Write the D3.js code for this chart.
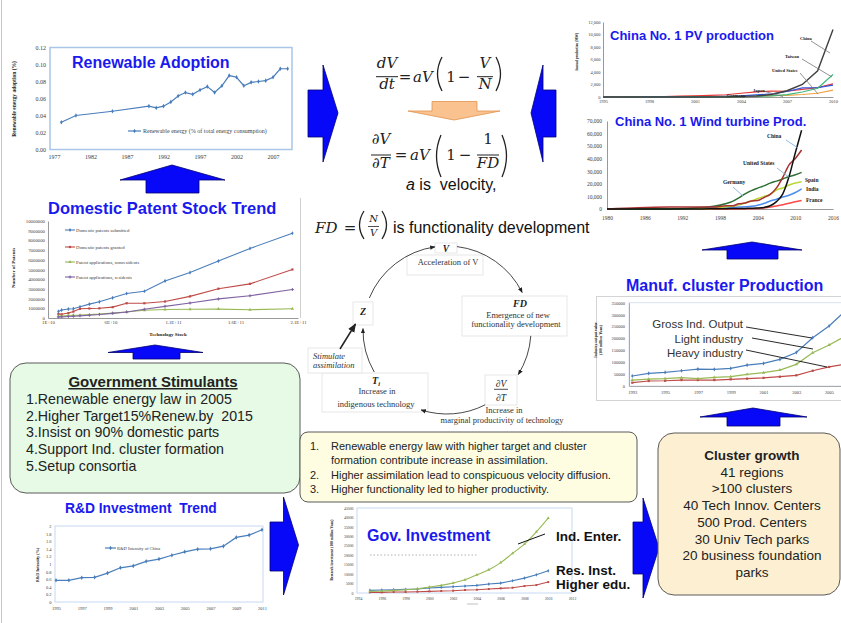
<!DOCTYPE html>
<html>
<head>
<meta charset="utf-8">
<title>Renewable technology diffusion in China</title>
<script src="https://d3js.org/d3.v7.min.js"></script>
<style>
  body { margin: 0; background: #fff; }
  text { font-family: "Liberation Sans", Arial, sans-serif; }
  .serif { font-family: "Liberation Serif", "Times New Roman", serif; }
  .math { font-family: "DejaVu Serif", serif; }
</style>
</head>
<body>
<script>
// ---------- data ----------
var renewYears = [1978, 1980, 1985, 1990, 1991, 1992, 1993, 1994, 1995, 1996, 1997, 1998, 1999, 2000, 2001, 2002, 2003, 2004, 2005, 2006, 2007, 2008, 2009];
var renewShare = [0.032, 0.040, 0.045, 0.051, 0.049, 0.051, 0.056, 0.063, 0.067, 0.065, 0.070, 0.074, 0.067, 0.075, 0.087, 0.085, 0.075, 0.079, 0.080, 0.081, 0.085, 0.095, 0.095];
var renewTicksX = [1977, 1982, 1987, 1992, 1997, 2002, 2007];
var renewTicksY = [0, 0.02, 0.04, 0.06, 0.08, 0.10, 0.12];

var pvYears = [1995, 1996, 1997, 1998, 1999, 2000, 2001, 2002, 2003, 2004, 2005, 2006, 2007, 2008, 2009, 2010];
var pvChina = [1, 1, 2, 2, 3, 3, 5, 10, 12, 50, 150, 400, 1000, 2000, 4200, 10800];
var pvTaiwan = [0, 0, 0, 0, 0, 0, 5, 8, 17, 39, 88, 170, 368, 800, 1400, 3600];
var pvUS = [35, 39, 51, 54, 61, 75, 100, 121, 103, 139, 153, 202, 266, 400, 600, 1100];
var pvJapan = [16, 21, 35, 49, 80, 129, 171, 251, 364, 602, 833, 927, 920, 1224, 1500, 2100];
var pvGermany = [0, 0, 0, 5, 10, 23, 33, 54, 121, 186, 339, 500, 875, 1450, 1500, 1900];
var pvTicksX = [1995, 1998, 2001, 2004, 2007, 2010];
var pvTicksY = [0, 2000, 4000, 6000, 8000, 10000, 12000];

var windYears = [1980, 1985, 1990, 1995, 1997, 1999, 2000, 2001, 2002, 2003, 2004, 2005, 2006, 2007, 2008, 2009, 2010, 2011];
var windChina = [0, 0, 0, 40, 150, 260, 350, 400, 470, 570, 760, 1260, 2600, 5900, 12000, 25800, 44700, 62700];
var windUS = [10, 1000, 1500, 1600, 1600, 2500, 2500, 4200, 4700, 6400, 6700, 9100, 11600, 16800, 25200, 35100, 40200, 46900];
var windGermany = [0, 0, 60, 1100, 2100, 4400, 6100, 8800, 12000, 14600, 16600, 18400, 20600, 22200, 23900, 25800, 27200, 29100];
var windSpain = [0, 0, 0, 100, 450, 1800, 2200, 3300, 4800, 6200, 8300, 10000, 11600, 15100, 16700, 19100, 20700, 21700];
var windIndia = [0, 0, 0, 500, 900, 1000, 1200, 1500, 1700, 2100, 3000, 4400, 6300, 7800, 9600, 10900, 13100, 16100];
var windFrance = [0, 0, 0, 0, 10, 20, 60, 90, 150, 250, 390, 760, 1600, 2450, 3400, 4500, 5700, 6800];
var windTicksX = [1980, 1986, 1992, 1998, 2004, 2010, 2016];
var windTicksY = [0, 10000, 20000, 30000, 40000, 50000, 60000, 70000];

var techStock = [1.83e10, 2.09e10, 2.63e10, 3.03e10, 3.56e10, 4.31e10, 5.11e10, 6.17e10, 7.29e10, 8.71e10, 1.036e11, 1.236e11, 1.463e11, 1.716e11, 2.055e11];
var patSubmitted = [680000, 820000, 920000, 960000, 1160000, 1430000, 1670000, 2080000, 2530000, 2760000, 3820000, 4680000, 5870000, 7170000, 8740000];
var patGranted = [410000, 380000, 510000, 660000, 950000, 980000, 1000000, 1120000, 1520000, 1520000, 1700000, 2230000, 3020000, 3520000, 5000000];
var patNonres = [180000, 200000, 250000, 280000, 300000, 350000, 400000, 500000, 620000, 800000, 870000, 900000, 920000, 850000, 960000];
var patRes = [100000, 120000, 150000, 180000, 220000, 280000, 360000, 480000, 620000, 900000, 1200000, 1550000, 1970000, 2300000, 2930000];
var patTicksX = [1e10, 6e10, 1.1e11, 1.6e11, 2.1e11];
var patTickLabels = ["1E+10", "6E+10", "1.1E+11", "1.6E+11", "2.1E+11"];
var patTicksY = [0, 1e6, 2e6, 3e6, 4e6, 5e6, 6e6, 7e6, 8e6, 9e6, 1e7];
var patLegend = ["Domestic patents submitted", "Domestic patents granted", "Patent applications, nonresidents", "Patent applications, residents"];

var mfgYears = [1993, 1994, 1995, 1996, 1997, 1998, 1999, 2000, 2001, 2002, 2003, 2004, 2005, 2006];
var mfgGross = [42000, 53000, 57000, 64000, 71000, 70000, 74000, 88000, 95000, 112000, 141000, 203000, 252000, 316600];
var mfgLight = [25000, 29000, 31000, 35000, 31000, 36000, 39000, 49000, 56000, 67000, 91000, 140000, 172000, 210000];
var mfgHeavy = [14000, 21000, 22000, 25000, 25000, 25000, 28000, 31000, 34000, 39000, 45000, 64000, 80000, 92000];
var mfgTicksX = [1993, 1995, 1997, 1999, 2001, 2003, 2005];
var mfgTicksY = [0, 50000, 100000, 150000, 200000, 250000, 300000, 350000];

var rdYears = [1995, 1996, 1997, 1998, 1999, 2000, 2001, 2002, 2003, 2004, 2005, 2006, 2007, 2008, 2009, 2010, 2011];
var rdIntensity = [0.57, 0.57, 0.64, 0.65, 0.76, 0.90, 0.95, 1.07, 1.13, 1.23, 1.32, 1.39, 1.40, 1.47, 1.70, 1.76, 1.90];
var rdTicksX = [1995, 1997, 1999, 2001, 2003, 2005, 2007, 2009, 2011];
var rdTicksY = [0, 0.2, 0.4, 0.6, 0.8, 1, 1.2, 1.4, 1.6, 1.8, 2];

var govYears = [1995, 1996, 1997, 1998, 1999, 2000, 2001, 2002, 2003, 2004, 2005, 2006, 2007, 2008, 2009, 2010];
var govEnterprise = [875, 1050, 1400, 1750, 2280, 3150, 4030, 5250, 7000, 9630, 12260, 16100, 21000, 25900, 32400, 39700];
var govResearch = [1400, 1580, 1750, 1930, 2100, 2630, 2980, 3330, 3680, 4030, 4730, 5250, 6480, 7880, 9630, 11730];
var govHigherEdu = [350, 350, 525, 525, 700, 875, 1050, 1230, 1580, 1750, 2100, 2450, 2800, 3680, 4200, 5780];
var govTicksX = [1994, 1996, 1998, 2000, 2002, 2004, 2006, 2008, 2010, 2012];
var govTicksY = [0, 5000, 10000, 15000, 20000, 25000, 30000, 35000, 40000, 45000];

var stimulants = ["1.Renewable energy law in 2005", "2.Higher Target15%Renew.by  2015", "3.Insist on 90% domestic parts", "4.Support Ind. cluster formation", "5.Setup consortia"];
var clusterLines = ["41 regions", ">100 clusters", "40 Tech Innov. Centers", "500 Prod. Centers", "30 Univ Tech parks", "20 business foundation", "parks"];
var notes = [["1.", "Renewable energy law with higher target and cluster"], ["", "formation contribute increase in assimilation."],
             ["2.", "Higher assimilation lead to conspicuous velocity diffusion."], ["3.", "Higher functionality led to higher productivity."]];

// ---------- helpers ----------
var svg = d3.select("body").append("svg").attr("width", 841).attr("height", 623);
var blueTitle = "#1a1aee";

function txt(x, y, s, size, o) {
  o = o || {};
  var t = svg.append("text").attr("x", x).attr("y", y).text(s)
    .style("font-size", size + "px").style("white-space", "pre");
  if (o.anchor) t.attr("text-anchor", o.anchor);
  t.attr("fill", o.fill || "#222");
  if (o.weight) t.style("font-weight", o.weight);
  if (o.italic) t.style("font-style", "italic");
  if (o.cls) t.attr("class", o.cls);
  if (o.rotate) t.attr("transform", "rotate(-90," + x + "," + y + ")");
  return t;
}

function seg(x1, y1, x2, y2, color, w) {
  return svg.append("line").attr("x1", x1).attr("y1", y1).attr("x2", x2).attr("y2", y2)
    .attr("stroke", color).attr("stroke-width", w || 1);
}

function axes(x, y, o) {
  var gx = svg.append("g").attr("transform", "translate(0," + o.y0 + ")")
    .call(d3.axisBottom(x).tickValues(o.xTicks).tickFormat(o.xFmt || d3.format("d"))
      .tickSize(0).tickSizeOuter(0).tickPadding(o.xPad));
  var gy = svg.append("g").attr("transform", "translate(" + o.x0 + ",0)")
    .call(d3.axisLeft(y).tickValues(o.yTicks).tickFormat(o.yFmt || d3.format("d"))
      .tickSize(0).tickSizeOuter(0).tickPadding(o.yPad));
  [gx, gy].forEach(function(g) {
    g.select(".domain").attr("stroke", o.line || "none");
    g.selectAll("text").attr("class", "serif").attr("fill", "#404040").style("font-size", o.fs + "px");
  });
}

function series(xs, vs, x, y, color, o) {
  o = o || {};
  var line = d3.line().x(function(d, i) { return x(xs[i]); }).y(function(d) { return y(d); });
  if (o.curve) line.curve(o.curve);
  svg.append("path").datum(vs).attr("d", line).attr("fill", "none")
    .attr("stroke", color).attr("stroke-width", o.w || 1.2);
  if (o.marker) {
    svg.append("g").selectAll("path").data(vs).enter().append("path")
      .attr("d", d3.symbol().type(o.marker).size(o.ms || 5))
      .attr("transform", function(d, i) { return "translate(" + x(xs[i]) + "," + y(d) + ")"; })
      .attr("fill", color);
  }
}

function blueArrow(pts) {
  svg.append("polygon").attr("points", pts.map(function(p) { return p.join(","); }).join(" "))
    .attr("fill", "#0808f8").attr("stroke", "#000070").attr("stroke-width", 0.8);
}

// slide frame lines
seg(1.5, 0, 1.5, 623, "#c8c8c8", 1);
seg(300.5, 198, 300.5, 318, "#d0d0d0", 1);

// ---------- Renewable adoption ----------
var x1 = d3.scaleLinear().domain([1976.45, 2009.6]).range([50, 292]);
var y1 = d3.scaleLinear().domain([0, 0.12]).range([149.5, 47.5]);
axes(x1, y1, {x0: 50, y0: 149.5, xTicks: renewTicksX, yTicks: renewTicksY, yFmt: d3.format(".2f"), fs: 6, xPad: 5, yPad: 4});
svg.append("rect").attr("x", 50).attr("y", 47.5).attr("width", 242).attr("height", 102)
  .attr("fill", "none").attr("stroke", "#a9c6e8").attr("stroke-width", 1.5);
series(renewYears, renewShare, x1, y1, "#4a7ebb", {marker: d3.symbolDiamond, ms: 6});
seg(128, 131, 141, 131, "#4a7ebb", 1.2);
svg.append("path").attr("d", d3.symbol().type(d3.symbolDiamond).size(6)).attr("transform", "translate(134.5,131)").attr("fill", "#4a7ebb");
txt(143, 133, "Renewable energy (% of total energy consumption)", 6, {cls: "serif", fill: "#404040"});
txt(16, 99, "Renewable energy adoption (%)", 5.5, {cls: "serif", weight: "bold", anchor: "middle", rotate: true});
txt(72, 68, "Renewable Adoption", 16, {weight: "bold", fill: blueTitle});

blueArrow([[146, 193], [146, 180], [120, 180], [172, 165], [225, 180], [199, 180], [199, 193]]);

// ---------- China PV production ----------
var x2 = d3.scaleLinear().domain([1995, 2010]).range([603, 833]);
var y2 = d3.scaleLinear().domain([0, 12000]).range([97, 22]);
axes(x2, y2, {x0: 603, y0: 97, xTicks: pvTicksX, yTicks: pvTicksY, yFmt: d3.format(","), fs: 4.5, xPad: 3, yPad: 2.5, line: "#999"});
series(pvYears, pvUS, x2, y2, "#f0a040", {w: 1.2});
series(pvYears, pvJapan, x2, y2, "#e83838", {w: 1.2});
series(pvYears, pvGermany, x2, y2, "#3358e0", {w: 1.2});
series(pvYears, pvTaiwan, x2, y2, "#3cb878", {w: 1.2});
series(pvYears, pvChina, x2, y2, "#404040", {w: 1.4});
seg(811, 41, 830, 53, "#777", 0.8);
seg(802, 59, 832, 77, "#777", 0.8);
seg(800, 73, 818, 94, "#777", 0.8);
seg(765, 91.5, 783, 96.5, "#777", 0.8);
seg(746, 97, 758, 97, "#777", 0.8);
txt(800, 40, "China", 4.5, {cls: "serif", weight: "bold"});
txt(785, 58, "Taiwan", 4.5, {cls: "serif", weight: "bold"});
txt(772, 72, "United States", 4.5, {cls: "serif", weight: "bold"});
txt(753, 92, "Japan", 4.5, {cls: "serif", weight: "bold"});
txt(727, 96.5, "Germany", 4.5, {cls: "serif", weight: "bold"});
txt(578, 52, "Annual production (MW)", 3.5, {cls: "serif", weight: "bold", anchor: "middle", rotate: true});
txt(610, 40, "China No. 1 PV production", 13, {weight: "bold", fill: blueTitle});

// ---------- China wind turbine ----------
var x3 = d3.scaleLinear().domain([1980, 2016]).range([607, 833]);
var y3 = d3.scaleLinear().domain([0, 70000]).range([209, 121]);
axes(x3, y3, {x0: 607, y0: 209, xTicks: windTicksX, yTicks: windTicksY, yFmt: d3.format(","), fs: 5.5, xPad: 7, yPad: 5, line: "#999"});
var smooth = d3.curveMonotoneX;
series(windYears, windFrance, x3, y3, "#ff4848", {w: 1.5, curve: smooth});
series(windYears, windIndia, x3, y3, "#4a8cf0", {w: 1.5, curve: smooth});
series(windYears, windSpain, x3, y3, "#b8d838", {w: 1.5, curve: smooth});
series(windYears, windGermany, x3, y3, "#2e6e34", {w: 1.5, curve: smooth});
series(windYears, windUS, x3, y3, "#a83030", {w: 1.5, curve: smooth});
series(windYears, windChina, x3, y3, "#111", {w: 1.5, curve: smooth});
seg(786, 140, 798, 148, "#80b2e6", 0.9);
seg(777, 168, 790, 178, "#80b2e6", 0.9);
seg(733, 187, 743, 196, "#80b2e6", 0.9);
txt(767, 138, "China", 5.5, {cls: "serif", weight: "bold"});
txt(743, 165, "United States", 5.5, {cls: "serif", weight: "bold"});
txt(723, 184, "Germany", 5.5, {cls: "serif", weight: "bold"});
txt(805, 182, "Spain", 5.5, {cls: "serif", weight: "bold"});
txt(806, 191, "India", 5.5, {cls: "serif", weight: "bold"});
txt(806, 202, "France", 5.5, {cls: "serif", weight: "bold"});
txt(615, 126, "China No. 1 Wind turbine Prod.", 13, {weight: "bold", fill: blueTitle});

blueArrow([[727, 259], [727, 250], [702, 250], [752, 242], [802, 250], [778, 250], [778, 259]]);

// ---------- Domestic patent stock ----------
var x4 = d3.scaleLinear().domain([1e10, 2.1e11]).range([48, 298]);
var y4 = d3.scaleLinear().domain([0, 1e7]).range([318, 221]);
axes(x4, y4, {x0: 48, y0: 318, xTicks: patTicksX, yTicks: patTicksY, xFmt: function(d, i) { return patTickLabels[i]; }, fs: 4.8, xPad: 2.5, yPad: 3, line: "#999"});
var patColors = ["#4a7ebb", "#be4b48", "#98b954", "#8064a2"];
var patMarkers = [d3.symbolDiamond, d3.symbolSquare, d3.symbolTriangle, d3.symbolCross];
[patSubmitted, patGranted, patNonres, patRes].forEach(function(s, k) {
  series(techStock, s, x4, y4, patColors[k], {w: 1.1, marker: patMarkers[k], ms: 5});
});
patLegend.forEach(function(name, k) {
  var ly = [230, 247, 262, 277][k];
  seg(65, ly, 75, ly, patColors[k], 1.1);
  svg.append("path").attr("d", d3.symbol().type(patMarkers[k]).size(5))
    .attr("transform", "translate(70," + ly + ")").attr("fill", patColors[k]);
  txt(76, ly + 1.6, name, 4.8, {cls: "serif", fill: "#404040"});
});
txt(15, 268, "Number of Patents", 5, {cls: "serif", weight: "bold", anchor: "middle", rotate: true});
txt(168, 336, "Technology Stock", 5, {cls: "serif", weight: "bold", anchor: "middle"});
txt(48, 214, "Domestic Patent Stock Trend", 16.5, {weight: "bold", fill: blueTitle});

blueArrow([[133, 359], [133, 352.5], [108, 352.5], [155, 345], [203, 352.5], [180, 352.5], [180, 359]]);

// ---------- Manufacturing cluster production ----------
var x5 = d3.scaleLinear().domain([1992.8, 2006]).range([629, 845.5]);
var y5 = d3.scaleLinear().domain([0, 350000]).range([386, 302.7]);
svg.append("rect").attr("x", 596.5).attr("y", 296.5).attr("width", 250).attr("height", 104)
  .attr("fill", "none").attr("stroke", "#d4d4d4");
svg.append("rect").attr("x", 629).attr("y", 302.7).attr("width", 220).attr("height", 83.3)
  .attr("fill", "none").attr("stroke", "#d6e2f0");
axes(x5, y5, {x0: 629, y0: 386, xTicks: mfgTicksX, yTicks: mfgTicksY, fs: 4.5, xPad: 5, yPad: 4, line: "#aaa"});
series(mfgYears, mfgHeavy, x5, y5, "#be4b48", {w: 1.2, marker: d3.symbolSquare, ms: 5});
series(mfgYears, mfgLight, x5, y5, "#98b954", {w: 1.2, marker: d3.symbolTriangle, ms: 5});
series(mfgYears, mfgGross, x5, y5, "#4a7ebb", {w: 1.2, marker: d3.symbolDiamond, ms: 5});
txt(743, 328, "Gross Ind. Output", 11.5, {anchor: "end", fill: "#333"});
txt(743, 343, "Light industry", 11.5, {anchor: "end", fill: "#333"});
txt(743, 357, "Heavy industry", 11.5, {anchor: "end", fill: "#333"});
seg(746, 327, 812, 338, "#111", 0.9);
seg(752, 338, 813, 349, "#111", 0.9);
seg(746, 350, 827, 367, "#111", 0.9);
txt(597, 340, "Industry output value", 3.8, {cls: "serif", weight: "bold", anchor: "middle", rotate: true});
txt(602, 340, "(100 million Yuan)", 3.8, {cls: "serif", weight: "bold", anchor: "middle", rotate: true});
txt(626, 291, "Manuf. cluster Production", 16, {weight: "bold", fill: blueTitle});

blueArrow([[727, 426], [727, 417], [700, 417], [753, 408], [807, 417], [780, 417], [780, 426]]);

// ---------- R&D investment ----------
var x6 = d3.scaleLinear().domain([1995, 2011]).range([56, 262]);
var y6 = d3.scaleLinear().domain([0, 2]).range([602, 526]);
axes(x6, y6, {x0: 55, y0: 602, xTicks: rdTicksX, yTicks: rdTicksY, yFmt: d3.format("~g"), fs: 4.5, xPad: 5, yPad: 3.5});
svg.append("rect").attr("x", 55).attr("y", 526).attr("width", 208).attr("height", 76)
  .attr("fill", "none").attr("stroke", "#c6d9f1");
series(rdYears, rdIntensity, x6, y6, "#4a7ebb", {w: 1.2, marker: d3.symbolDiamond, ms: 6});
seg(105, 548, 116, 548, "#4a7ebb", 1.2);
svg.append("path").attr("d", d3.symbol().type(d3.symbolDiamond).size(6)).attr("transform", "translate(110.5,548)").attr("fill", "#4a7ebb");
txt(117, 549.6, "R&D Intensity of China", 4.5, {cls: "serif", fill: "#404040"});
txt(39, 565, "R&D Intensity (%)", 4.2, {cls: "serif", weight: "bold", anchor: "middle", rotate: true});
txt(65, 513, "R&D Investment  Trend", 13.8, {weight: "bold", fill: blueTitle});

blueArrow([[270, 571], [270, 522], [283.5, 522], [283.5, 497], [298.5, 545], [283.5, 595], [283.5, 571]]);

// ---------- Government investment ----------
var x7 = d3.scaleLinear().domain([1994, 2012]).range([358, 572]);
var y7 = d3.scaleLinear().domain([0, 45000]).range([593, 508]);
axes(x7, y7, {x0: 357, y0: 593, xTicks: govTicksX, yTicks: govTicksY, fs: 3.8, xPad: 4, yPad: 3.5});
svg.append("rect").attr("x", 357).attr("y", 508).attr("width", 215).attr("height", 85)
  .attr("fill", "none").attr("stroke", "#c6d9f1");
seg(370, 555, 477, 555, "#a0a0a0", 0.8).attr("stroke-dasharray", "1.5,2");
seg(467, 604, 478, 604, "#b0b0b0", 0.8);
series(govYears, govHigherEdu, x7, y7, "#be4b48", {w: 1.1, marker: d3.symbolSquare, ms: 4});
series(govYears, govResearch, x7, y7, "#4a7ebb", {w: 1.1, marker: d3.symbolDiamond, ms: 4});
series(govYears, govEnterprise, x7, y7, "#98b954", {w: 1.1, marker: d3.symbolTriangle, ms: 4, curve: d3.curveMonotoneX});
seg(518, 544, 545, 534, "#111", 1);
txt(333, 550, "Research investment (100 million Yuan)", 3.6, {cls: "serif", weight: "bold", anchor: "middle", rotate: true});
txt(367, 541, "Gov. Investment", 16, {weight: "bold", fill: blueTitle});
txt(556, 541, "Ind. Enter.", 13.5, {weight: "bold", fill: "#111"});
txt(556, 575, "Res. Inst.", 13.5, {weight: "bold", fill: "#111"});
txt(556, 589, "Higher edu.", 13.5, {weight: "bold", fill: "#111"});

blueArrow([[633, 574], [633, 522], [643, 522], [643, 498], [659, 548], [643, 598], [643, 574]]);

// ---------- text boxes ----------
svg.append("rect").attr("x", 10).attr("y", 363).attr("width", 290).attr("height", 130).attr("rx", 16)
  .attr("fill", "#e6fae6").attr("stroke", "#5a5a5a").attr("stroke-width", 1);
txt(153, 387, "Government Stimulants", 15, {weight: "bold", anchor: "middle", fill: "#222"}).style("text-decoration", "underline");
stimulants.forEach(function(s, i) { txt(26, 404 + i * 16.7, s, 14.2, {fill: "#222"}); });

svg.append("rect").attr("x", 300).attr("y", 432).attr("width", 337).attr("height", 70).attr("rx", 8)
  .attr("fill", "#fefde2").attr("stroke", "#5a5a5a").attr("stroke-width", 1);
notes.forEach(function(n, i) {
  var by = [450, 464, 479, 493][i];
  txt(310, by, n[0], 11, {fill: "#222"});
  txt(331, by, n[1], 11, {fill: "#222"});
});

svg.append("rect").attr("x", 658).attr("y", 433).attr("width", 182).attr("height", 162).attr("rx", 16)
  .attr("fill", "#fdf0d2").attr("stroke", "#5a5a5a").attr("stroke-width", 1);
txt(752, 460, "Cluster growth", 13.5, {weight: "bold", anchor: "middle", fill: "#222"});
clusterLines.forEach(function(s, i) { txt(752, 476.7 + i * 16.7, s, 13.5, {anchor: "middle", fill: "#222"}); });

// ---------- equations ----------
blueArrow([[308, 137], [308, 90], [323, 90], [323, 65], [338, 113], [323, 162], [323, 137]]);
blueArrow([[556, 137], [556, 90], [543, 90], [543, 65], [531, 113], [543, 162], [543, 137]]);

function paren(x0, top, bot, dir) {
  var mid = (top + bot) / 2;
  svg.append("path").attr("d", "M" + x0 + "," + top + "Q" + (x0 - dir * 9) + "," + mid + " " + x0 + "," + bot)
    .attr("fill", "none").attr("stroke", "#222").attr("stroke-width", 1.3);
}
var m = {cls: "math", italic: true, anchor: "middle"};
var mu = {cls: "math", anchor: "middle"};
txt(387, 68, "dV", 15, m); seg(376, 76.7, 398, 76.7, "#222", 1); txt(387, 89, "dt", 15, m);
txt(405, 82, "=", 15, mu); txt(423, 82, "aV", 15, m);
paren(442, 57, 91, 1); txt(451, 82, "1", 15, mu); txt(464, 82, "−", 15, mu);
txt(485, 68, "V", 15, m); seg(477, 76.7, 493, 76.7, "#222", 1); txt(485, 89, "N", 15, m);
paren(496, 57, 91, -1);

svg.append("polygon").attr("points", "432,101.5 477,101.5 477,111 500,111 454,120 408,111 432,111")
  .attr("fill", "#fac28e").attr("stroke", "#e0934c").attr("stroke-width", 0.8);

txt(381, 144, "∂V", 15, m); seg(371, 155, 391, 155, "#222", 1); txt(381, 168, "∂T", 15, m);
txt(401, 160, "=", 15, mu); txt(420, 160, "aV", 15, m);
paren(441, 135, 177, 1); txt(451, 160, "1", 15, mu); txt(465, 160, "−", 15, mu);
txt(488, 144, "1", 15, mu); seg(477, 155, 499, 155, "#222", 1); txt(488, 168, "FD", 15, m);
paren(502, 135, 177, -1);

var vel = txt(406, 190, "", 16, {fill: "#111"});
vel.append("tspan").style("font-style", "italic").text("a");
vel.append("tspan").text(" is  velocity,");

txt(315, 233, "FD", 15, {cls: "math", italic: true});
txt(350, 233, "=", 15, mu);
paren(364, 211, 239, 1);
txt(373.5, 222, "N", 10, m); seg(368, 226.5, 379, 226.5, "#222", 0.8); txt(373.5, 236, "V", 10, m);
paren(382, 211, 239, -1);
txt(393, 233, "is functionality development", 16, {fill: "#111"});

// ---------- cycle diagram ----------
var defs = svg.append("defs");
defs.append("marker").attr("id", "ah").attr("viewBox", "0 0 10 10").attr("refX", 9).attr("refY", 5)
  .attr("markerWidth", 6).attr("markerHeight", 6).attr("orient", "auto")
  .append("path").attr("d", "M0,1L10,5L0,9Z").attr("fill", "#222");

function box(x, y, w, h) {
  svg.append("rect").attr("x", x).attr("y", y).attr("width", w).attr("height", h)
    .attr("fill", "#fff").attr("stroke", "#e2e2e2").attr("stroke-width", 0.8);
}
box(407, 255, 76, 20); box(435, 243, 22, 10);
box(462, 296, 105, 40);
box(485, 375, 32, 30);
box(322, 373, 106, 39);
box(353, 302, 20, 23);
box(308, 348, 54, 25);

var cx = 447, cy = 330, cr = 84;
function onCircle(a) { var r = a * Math.PI / 180; return [cx + cr * Math.sin(r), cy - cr * Math.cos(r)]; }
function arcPath(a0, a1) {
  var p0 = onCircle(a0), p1 = onCircle(a1);
  return "M" + p0.join(",") + "A" + cr + "," + cr + " 0 0,1 " + p1.join(",");
}
[[-67.6, -8.2], [6.8, 63.5], [94, 122], [153, 198], [240, 271]].forEach(function(a) {
  svg.append("path").attr("d", arcPath(a[0], a[1])).attr("fill", "none")
    .attr("stroke", "#333").attr("stroke-width", 0.9).attr("marker-end", "url(#ah)");
});
seg(340, 349, 355.5, 324, "#222", 1.5).attr("marker-end", "url(#ah)");

var sb = {cls: "serif", weight: "bold", italic: true, anchor: "middle"};
var sr = {cls: "serif", anchor: "middle", fill: "#333"};
txt(446, 252, "V", 9.5, sb);
txt(448, 264.5, "Acceleration of V", 8.5, sr);
txt(520, 306.5, "FD", 10, sb);
txt(518, 317.5, "Emergence of new", 8.5, sr);
txt(516, 327, "functionality development", 8.5, sr);
txt(501, 387, "∂V", 9.5, {cls: "serif", italic: true, anchor: "middle"});
seg(494, 389.3, 508, 389.3, "#222", 0.8);
txt(501, 400.5, "∂T", 9.5, {cls: "serif", italic: true, anchor: "middle"});
txt(504, 413, "Increase in", 8.5, sr);
txt(502, 423, "marginal productivity of technology", 8.5, sr);
var ti = txt(376, 384, "T", 10, sb);
ti.append("tspan").attr("dy", 2).style("font-size", "6.5px").text("i");
txt(377, 394, "Increase in", 8.5, sr);
txt(376, 406.5, "indigenous technology", 8.5, sr);
txt(363, 315, "Z", 10, sb);
txt(313, 358.5, "Stimulate", 8.5, {cls: "serif", italic: true, fill: "#333"});
txt(313, 368, "assimilation", 8.5, {cls: "serif", italic: true, fill: "#333"});
</script>
</body>
</html>
